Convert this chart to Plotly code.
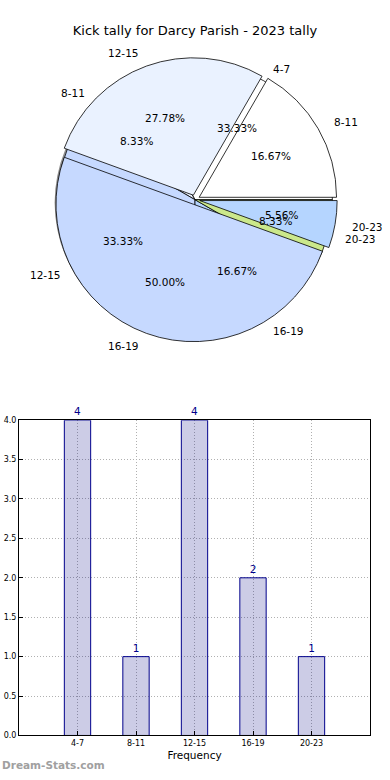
import math
import plotly.graph_objects as go

# ---- data ----
title = "Kick tally for Darcy Parish - 2023 tally"
bar_categories = ["4-7", "8-11", "12-15", "16-19", "20-23"]
bar_values = [4, 1, 4, 2, 1]

pie1_labels = ["4-7", "8-11", "12-15", "16-19", "20-23"]
pie1_values = [4, 1, 4, 2, 1]
pie2_labels = ["8-11", "12-15", "16-19", "20-23"]
pie2_values = [3, 5, 9, 1]

pie_colors = ["#ffffff", "#eaf2ff", "#c6d9ff", "#b5d5ff", "#cbe88b"]
y_ticks = [0.0, 0.5, 1.0, 1.5, 2.0, 2.5, 3.0, 3.5, 4.0]

# ---- layout constants ----
W, H = 390, 780
FONT = "DejaVu Sans"
cx_px, cy_px = 195, 198
r_px = 139
pull2 = 0.035

def px_x(x):
    return x / W

def px_y(y):
    return 1 - y / H

def dom(cx, cy, R):
    return dict(x=[(cx - R) / W, (cx + R) / W], y=[1 - (cy + R) / H, 1 - (cy - R) / H])

def start_rotation(values):
    # plotly places a counterclockwise first slice ending at `rotation`; shift so it starts at 3 o'clock
    return 90 - 360.0 * values[0] / sum(values)

fig = go.Figure()

# shadow of pie 1
fig.add_trace(go.Pie(values=[sum(pie1_values)], labels=["shadow"], sort=False,
                     marker=dict(colors=["rgba(0,0,0,0.45)"], line=dict(width=0)),
                     textinfo="none", hoverinfo="skip", showlegend=False,
                     domain=dom(cx_px - 3, cy_px + 3, r_px)))
# pie 1
fig.add_trace(go.Pie(values=pie1_values, labels=pie1_labels, sort=False,
                     direction="counterclockwise", rotation=start_rotation(pie1_values),
                     marker=dict(colors=pie_colors[:len(pie1_values)], line=dict(color="black", width=0.8)),
                     textinfo="none", showlegend=False,
                     domain=dom(cx_px, cy_px, r_px)))
# pie 2
fig.add_trace(go.Pie(values=pie2_values, labels=pie2_labels, sort=False,
                     direction="counterclockwise", rotation=start_rotation(pie2_values),
                     pull=[pull2] * len(pie2_values),
                     marker=dict(colors=pie_colors[:len(pie2_values)], line=dict(color="black", width=0.8)),
                     textinfo="none", showlegend=False,
                     domain=dom(cx_px, cy_px, r_px * (1 + pull2))))

annotations = []

def pie_annotations(labels, values, pull):
    total = sum(values)
    start = 0.0
    for lab, v in zip(labels, values):
        frac = v / total
        mid = (start + frac / 2) * 2 * math.pi
        start += frac
        ox = pull * r_px * math.cos(mid)
        oy = pull * r_px * math.sin(mid)
        lx = cx_px + ox + 1.1 * r_px * math.cos(mid)
        ly = cy_px - oy - 1.1 * r_px * math.sin(mid)
        annotations.append(dict(x=lx / W, y=1 - ly / H, xref="paper", yref="paper",
                                text=lab, showarrow=False,
                                xanchor="left" if math.cos(mid) > 0 else "right",
                                yanchor="middle", font=dict(size=10.5, color="black", family=FONT)))
        px = cx_px + ox + 0.6 * r_px * math.cos(mid)
        py = cy_px - oy - 0.6 * r_px * math.sin(mid)
        annotations.append(dict(x=px / W, y=1 - py / H, xref="paper", yref="paper",
                                text="%.2f%%" % (frac * 100), showarrow=False,
                                xanchor="center", yanchor="middle",
                                font=dict(size=10.5, color="black", family=FONT)))

pie_annotations(pie1_labels, pie1_values, 0.0)
pie_annotations(pie2_labels, pie2_values, pull2)

# ---- bar chart ----
fig.add_trace(go.Bar(x=bar_categories, y=bar_values, width=0.45,
                     marker=dict(color="rgba(0,0,128,0.2)", line=dict(color="#00008b", width=1)),
                     text=[str(v) for v in bar_values], textposition="outside",
                     textfont=dict(size=10.5, color="#00008b", family=FONT),
                     cliponaxis=False, showlegend=False, xaxis="x", yaxis="y"))

annotations.append(dict(x=0, y=px_y(770), xref="paper", yref="paper", text="Dream-Stats.com",
                        showarrow=False, xanchor="left", yanchor="middle",
                        font=dict(size=10.5, color="#a0a0a0", family=FONT, weight="bold")))

grid = dict(showgrid=True, gridcolor="#b0b0b0", griddash="1px,2px", gridwidth=1)

fig.update_layout(
    width=W, height=H,
    margin=dict(l=0, r=0, t=0, b=0),
    paper_bgcolor="white", plot_bgcolor="white",
    title=dict(text=title, x=0.5, xanchor="center", y=px_y(30), yanchor="middle",
               font=dict(size=13, color="black", family=FONT)),
    font=dict(family=FONT, color="black"),
    annotations=annotations,
    xaxis=dict(domain=[px_x(19), px_x(370)], range=[-1, 5], type="category",
               showline=True, linecolor="black", linewidth=1, mirror=True,
               ticks="inside", ticklen=4, tickcolor="black",
               tickfont=dict(size=8, family=FONT),
               title=dict(text="Frequency", font=dict(size=10.5, family=FONT), standoff=4),
               fixedrange=True, **grid),
    yaxis=dict(domain=[px_y(740), px_y(421)], range=[0, 4],
               tickvals=y_ticks, ticktext=["%.1f" % t for t in y_ticks],
               showline=True, linecolor="black", linewidth=1, mirror=True,
               zeroline=False,
               ticks="inside", ticklen=4, tickcolor="black",
               tickfont=dict(size=8, family=FONT), fixedrange=True, **grid),
)

# remove the default 8px page margin so the 390x780 figure fills the window exactly
fig.write_html("out.html", config={"displayModeBar": False},
               post_script="document.body.style.margin='0';")
